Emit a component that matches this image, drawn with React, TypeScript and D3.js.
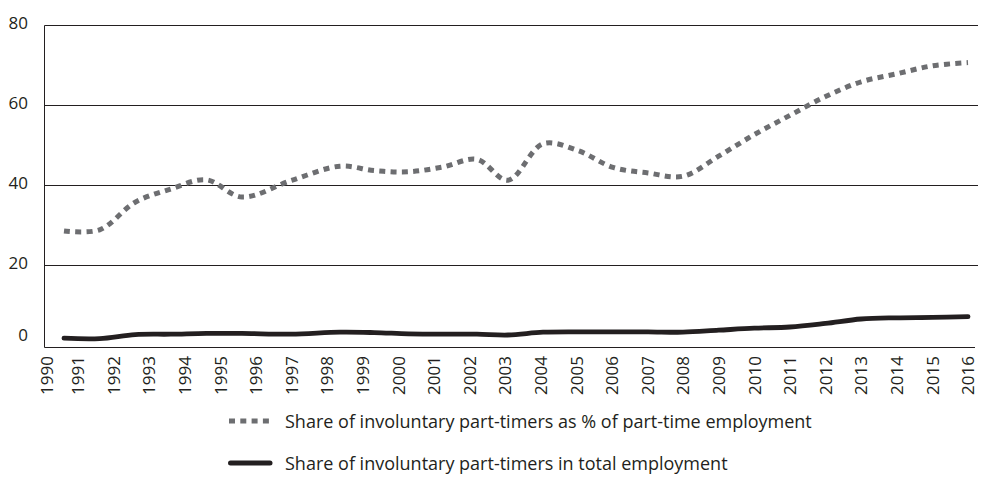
import React from "react";
import * as d3 from "d3";

const years = [
  1991, 1992, 1993, 1994, 1995, 1996, 1997, 1998, 1999, 2000, 2001, 2002, 2003,
  2004, 2005, 2006, 2007, 2008, 2009, 2010, 2011, 2012, 2013, 2014, 2015, 2016,
];
const shareOfPartTime = [
  28.5, 28.8, 35.7, 39.0, 41.3, 37.0, 41.1, 44.7, 43.6, 43.3, 44.5, 46.4, 41.2,
  50.3, 48.6, 44.4, 43.0, 42.2, 47.2, 52.6, 57.4, 62.1, 65.8, 67.8, 69.8, 70.6,
];
const shareOfTotal = [
  1.7, 1.6, 2.6, 2.7, 2.9, 2.9, 2.7, 3.2, 3.1, 2.8, 2.7, 2.7, 2.5, 3.2, 3.3,
  3.3, 3.3, 3.2, 3.7, 4.2, 4.5, 5.4, 6.5, 6.8, 6.9, 7.1,
];
const yTicks = [0, 20, 40, 60, 80];
const xTickLabels = [
  1990, 1991, 1992, 1993, 1994, 1995, 1996, 1997, 1998, 1999, 2000, 2001, 2002,
  2003, 2004, 2005, 2006, 2007, 2008, 2009, 2010, 2011, 2012, 2013, 2014, 2015,
  2016,
];
const legendLabels = [
  "Share of involuntary part-timers as % of part-time employment",
  "Share of involuntary part-timers in total employment",
];

const W = 985;
const H = 500;
const left = 44.5;
const right = 978;
const FONT = "'Open Sans', 'Noto Sans', sans-serif";
const INK = "#231f20";
const GREY = "#6d6e71";

export default function App() {
  const y = d3.scaleLinear().domain([0, 80]).range([345, 25]);
  const xData = d3
    .scaleLinear()
    .domain([1991, 1996, 1998, 2002, 2003, 2008, 2016])
    .range([64, 242, 340, 477, 508, 683, 968]);
  const xLabel = d3
    .scaleLinear()
    .domain([1990, 1991, 2016])
    .range([47, 78, 968]);

  const line = d3
    .line<number>()
    .x((_, i) => xData(years[i]))
    .y((d) => y(d))
    .curve(d3.curveCatmullRom.alpha(0.5));

  const snap = (v: number) => Math.round(v) + 0.5;
  const axisY = snap(y(0) + 1.5);

  return (
    <svg
      width={W}
      height={H}
      style={{ position: "absolute", left: 0, top: 0, background: "#fff" }}
      fontFamily={FONT}
    >
      {yTicks
        .filter((t) => t > 0)
        .map((t) => (
          <line
            key={"g" + t}
            x1={left}
            x2={right}
            y1={snap(y(t))}
            y2={snap(y(t))}
            stroke={INK}
            strokeWidth={1}
          />
        ))}
      <line x1={left} x2={left} y1={snap(y(80))} y2={axisY} stroke={INK} strokeWidth={1} />
      <line x1={left} x2={975} y1={axisY} y2={axisY} stroke={INK} strokeWidth={1} />

      {yTicks.map((t) => (
        <text
          key={"yt" + t}
          x={28}
          y={y(t) - (t === 0 ? 11 : 2.5)}
          textAnchor="end"
          dominantBaseline="central"
          fontSize={17}
          fill={INK}
        >
          {t}
        </text>
      ))}

      {xTickLabels.map((yr) => (
        <text
          key={"xt" + yr}
          transform={`translate(${xLabel(yr)},356) rotate(-90)`}
          textAnchor="end"
          dy="0.36em"
          fontSize={17}
          fill={INK}
        >
          {yr}
        </text>
      ))}

      <path
        d={line(shareOfPartTime) || ""}
        fill="none"
        stroke={GREY}
        strokeWidth={5}
        strokeDasharray="6,5.3"
      />
      <path
        d={line(shareOfTotal) || ""}
        fill="none"
        stroke={INK}
        strokeWidth={4.8}
        strokeLinecap="round"
        strokeLinejoin="round"
      />

      <line
        x1={229}
        x2={272}
        y1={421}
        y2={421}
        stroke={GREY}
        strokeWidth={5}
        strokeDasharray="6,5.3"
      />
      <line
        x1={230.5}
        x2={270}
        y1={463}
        y2={463}
        stroke={INK}
        strokeWidth={5}
        strokeLinecap="round"
      />
      {legendLabels.map((l, i) => (
        <text
          key={l}
          x={285}
          y={421 + i * 42}
          dominantBaseline="central"
          fontSize={18}
          fill={INK}
        >
          {l}
        </text>
      ))}
    </svg>
  );
}
